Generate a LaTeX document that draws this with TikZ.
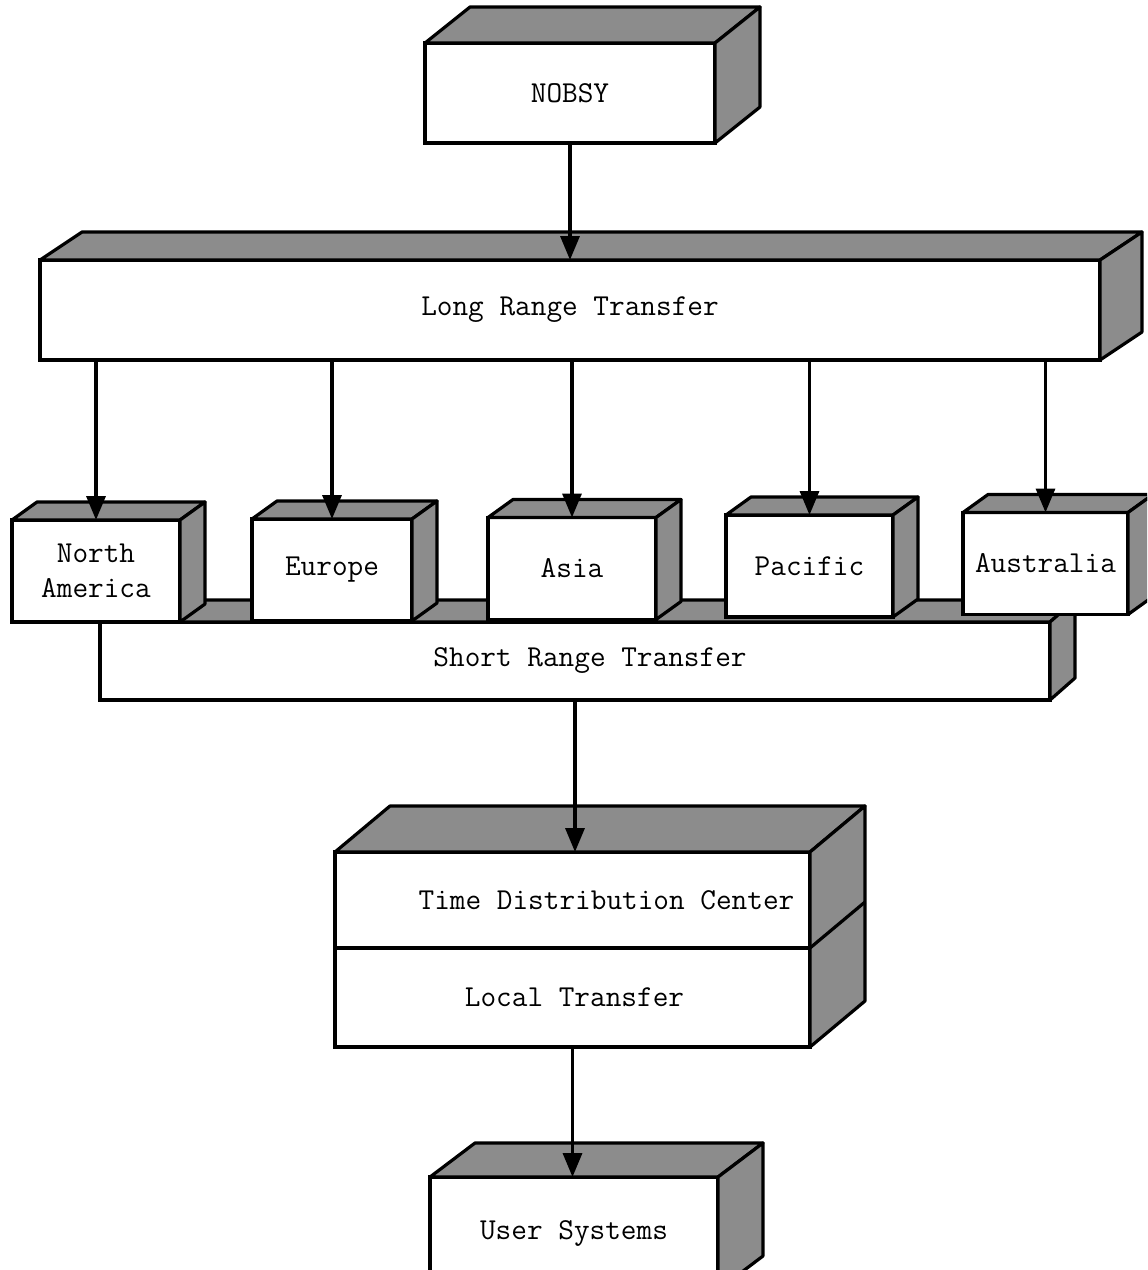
\documentclass[tikz,border=0pt]{standalone}
\usepackage{fontspec}
\usetikzlibrary{arrows.meta,positioning,calc}

\tikzset{
  face/.style={draw, fill=white, line width=1.6pt, inner sep=0pt, outer sep=0pt,
    align=center, font=\ttfamily\fontsize{15.2}{17.5}\selectfont},
  sidefill/.style={draw, fill=black!45, line width=1.6pt, line join=round},
  flow/.style={line width=1.7pt, -{Triangle[length=12pt,width=9.5pt]}}
}

\begin{document}
\begin{tikzpicture}[x=0.5pt, y=-0.5pt]
    \useasboundingbox (0,0) rectangle (1147,1270);
    \clip (0,0) rectangle (1147,1270);

    % Upper blocks
    \node[face, minimum width=145pt, minimum height=50pt] (nobsy) at (570,93) {NOBSY};
    \node[face, minimum width=530pt, minimum height=50pt] (lrt) at (570,310) {Long Range Transfer};
    \node[face, minimum width=475pt, minimum height=39pt] (srt) at (575,661) {\hspace*{15pt}Short Range Transfer};

    \foreach \n/\dx/\dy in {nobsy/45/-36, lrt/42/-28, srt/25/-22} {
        \draw[sidefill] (\n.north west) -- ++(\dx,\dy) -- ($(\n.north east)+(\dx,\dy)$) -- (\n.north east) -- cycle;
        \draw[sidefill] (\n.north east) -- ++(\dx,\dy) -- ($(\n.south east)+(\dx,\dy)$) -- (\n.south east) -- cycle;
    }

    % Regions
    \foreach \r/\x/\y/\w/\t in {na/96/571/84/{North\\America}, eu/332/570/80/Europe,
        asia/572/568.5/84/Asia, pac/809.5/566/83.5/Pacific, aus/1045.5/563.5/82.5/Australia} {
        \node[face, minimum width=\w pt, minimum height=51pt] (\r) at (\x,\y) {\t};
        \draw[sidefill] (\r.north west) -- ++(25,-18) -- ($(\r.north east)+(25,-18)$) -- (\r.north east) -- cycle;
        \draw[sidefill] (\r.north east) -- ++(25,-18) -- ($(\r.south east)+(25,-18)$) -- (\r.south east) -- cycle;
        \draw[flow] (lrt.south -| \r.north) -- (\r.north);
    }

    % Time distribution center
    \node[face, minimum width=237.5pt, minimum height=48pt] (tdc) at (572.5,900) {\hspace*{34pt}Time Distribution Center};
    \node[face, minimum width=237.5pt, minimum height=49.5pt, below=0pt of tdc] (local) {\hspace*{2pt}Local Transfer};
    \draw[sidefill] (tdc.north west) -- ++(55,-46) -- ($(tdc.north east)+(55,-46)$) -- (tdc.north east) -- cycle;
    \draw[sidefill] (tdc.north east) -- ++(55,-46) -- ($(local.south east)+(55,-46)$) -- (local.south east) -- cycle;
    \draw[line width=1.6pt] (tdc.south east) -- ++(55,-46);

    % User systems
    \node[face, minimum width=144pt, minimum height=56.5pt] (us) at (574,1233.5) {User Systems};
    \draw[sidefill] (us.north west) -- ++(45,-34) -- ($(us.north east)+(45,-34)$) -- (us.north east) -- cycle;
    \draw[sidefill] (us.north east) -- ++(45,-34) -- ($(us.south east)+(45,-34)$) -- (us.south east) -- cycle;

    % Edges
    \draw[flow] (nobsy.south) -- (lrt.north);
    \draw[flow] (srt.south) -- (srt.south |- tdc.north);
    \draw[flow] (local.south) -- (local.south |- us.north);
\end{tikzpicture}
\end{document}
